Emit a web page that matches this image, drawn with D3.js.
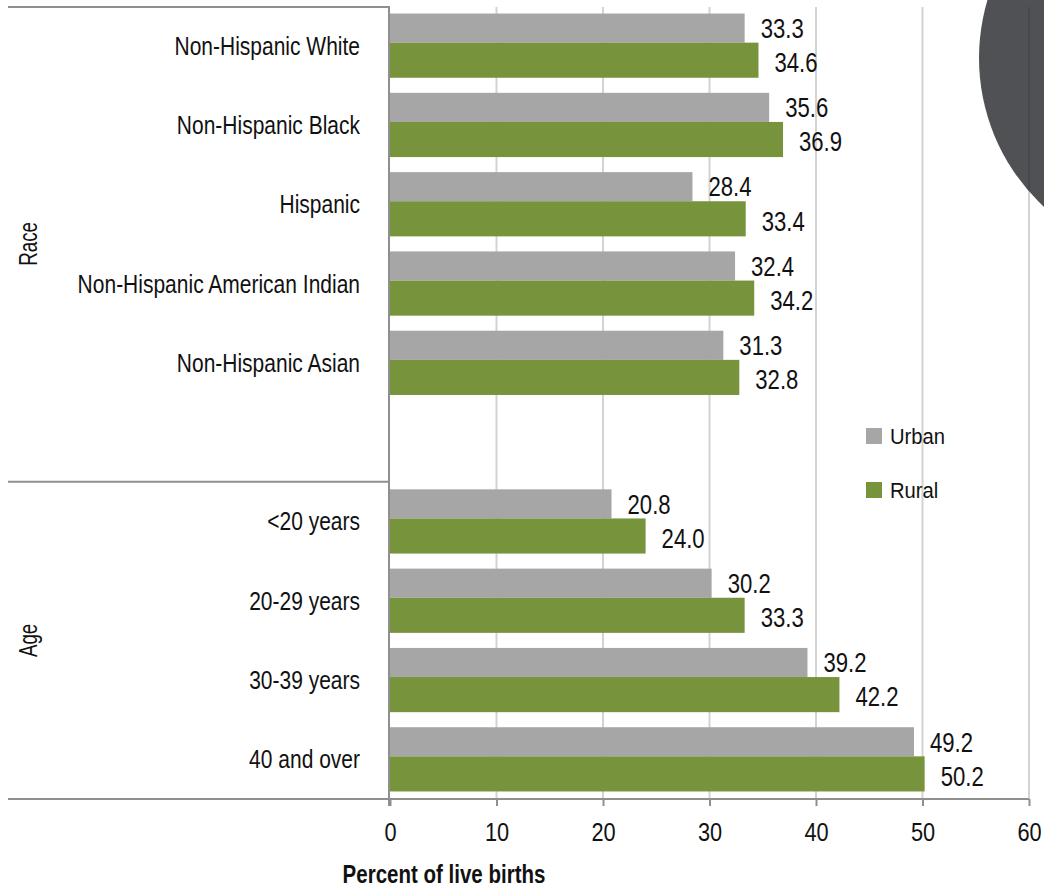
<!DOCTYPE html>
<html>
<head>
<meta charset="utf-8">
<script src="https://cdn.jsdelivr.net/npm/d3@7"></script>
<style>
  html, body { margin: 0; padding: 0; background: #fff; }
  svg { display: block; }
  text { font-family: "Liberation Sans", Arial, sans-serif; fill: #111; }
</style>
</head>
<body>
<svg id="chart" width="1044" height="888"></svg>
<script>
// ---- data ----
const raceCategories = ["Non-Hispanic White", "Non-Hispanic Black", "Hispanic", "Non-Hispanic American Indian", "Non-Hispanic Asian"];
const ageCategories = ["<20 years", "20-29 years", "30-39 years", "40 and over"];
const urbanRace = [33.3, 35.6, 28.4, 32.4, 31.3];
const ruralRace = [34.6, 36.9, 33.4, 34.2, 32.8];
const urbanAge = [20.8, 30.2, 39.2, 49.2];
const ruralAge = [24.0, 33.3, 42.2, 50.2];
const seriesNames = ["Urban", "Rural"];
const seriesColors = ["#a6a6a6", "#77933c"];
const groupLabels = ["Race", "Age"];
const xTicks = [0, 10, 20, 30, 40, 50, 60];
const xTitle = "Percent of live births";

// ---- build rows ----
const spacer = "__spacer__";
const rows = [];
raceCategories.forEach((c, i) => rows.push({ cat: c, Urban: urbanRace[i], Rural: ruralRace[i] }));
const domain = raceCategories.concat([spacer], ageCategories);
ageCategories.forEach((c, i) => rows.push({ cat: c, Urban: urbanAge[i], Rural: ruralAge[i] }));

const svg = d3.select("#chart");
const plotLeft = 390, plotRight = 1029, plotTop = 6, plotBottom = 799;
const axisColor = "#8f8f8f", gridColor = "#d3d3d3";
const narrow = 0.82; // horizontal condensing of the font

const x = d3.scaleLinear().domain([0, 60]).range([plotLeft, plotRight]);
const y = d3.scaleBand().domain(domain).range([plotTop, plotBottom]).paddingInner(0.19).paddingOuter(0.095);
const y1 = d3.scaleBand().domain(seriesNames).range([0, y.bandwidth()]);
const color = d3.scaleOrdinal().domain(seriesNames).range(seriesColors);

// gridlines
svg.append("g").selectAll("line").data(xTicks.filter(t => t > 0)).join("line")
  .attr("x1", d => x(d)).attr("x2", d => x(d))
  .attr("y1", plotTop + 1).attr("y2", plotBottom)
  .attr("stroke", gridColor).attr("stroke-width", 2);

// bars
const g = svg.append("g").selectAll("g").data(rows).join("g")
  .attr("transform", d => `translate(0,${y(d.cat)})`);
const urbanShrink = 3; // rural bar slightly overlaps the urban bar
g.append("rect")
  .attr("x", x(0)).attr("y", y1("Urban"))
  .attr("width", d => x(d.Urban) - x(0))
  .attr("height", y1.bandwidth() - urbanShrink)
  .attr("fill", color("Urban"));
g.append("rect")
  .attr("x", x(0)).attr("y", y1("Rural") - urbanShrink)
  .attr("width", d => x(d.Rural) - x(0))
  .attr("height", y1.bandwidth() + urbanShrink)
  .attr("fill", color("Rural"));

// value labels
const fmt = d3.format(".1f");
g.append("text")
  .attr("transform", d => `translate(${x(d.Urban) + 16},${y1("Urban") + (y1.bandwidth() - urbanShrink) / 2}) scale(${narrow},1)`)
  .attr("dy", "0.36em")
  .style("font-size", "27px")
  .text(d => fmt(d.Urban));
g.append("text")
  .attr("transform", d => `translate(${x(d.Rural) + 16},${y1("Rural") + y1.bandwidth() / 2}) scale(${narrow},1)`)
  .attr("dy", "0.38em")
  .style("font-size", "27px")
  .text(d => fmt(d.Rural));

// category labels
svg.append("g").selectAll("text").data(rows).join("text")
  .attr("transform", d => `translate(360,${y(d.cat) + y.bandwidth() / 2}) scale(0.84,1)`)
  .attr("dy", "0.36em")
  .attr("text-anchor", "end")
  .style("font-size", "25px")
  .text(d => d.cat);

// x axis
const xAxis = d3.axisBottom(x).tickValues(xTicks).tickSize(7).tickPadding(17).tickFormat(d3.format("d"));
const ax = svg.append("g").attr("transform", `translate(0,${plotBottom})`).call(xAxis);
ax.select(".domain").remove();
ax.selectAll(".tick line").attr("stroke", axisColor).attr("stroke-width", 2);
ax.selectAll(".tick text").style("font-size", "25px").attr("fill", "#111")
  .attr("transform", "scale(0.87,1)")
  .style("font-family", '"Liberation Sans", Arial, sans-serif');

// axis lines and group separators
const groupBoundaryY = y(ageCategories[0]) - y.step() * y.paddingInner() / 2;
svg.append("line").attr("x1", 8).attr("x2", plotRight).attr("y1", plotBottom).attr("y2", plotBottom)
  .attr("stroke", axisColor).attr("stroke-width", 2);
svg.append("line").attr("x1", plotLeft - 1).attr("x2", plotLeft - 1).attr("y1", plotTop).attr("y2", plotBottom + 7)
  .attr("stroke", axisColor).attr("stroke-width", 2);
svg.append("line").attr("x1", 8).attr("x2", plotLeft).attr("y1", plotTop + 1).attr("y2", plotTop + 1)
  .attr("stroke", axisColor).attr("stroke-width", 2);
svg.append("line").attr("x1", 8).attr("x2", plotLeft).attr("y1", groupBoundaryY).attr("y2", groupBoundaryY)
  .attr("stroke", axisColor).attr("stroke-width", 2);

// group labels (rotated)
const groupCenters = [(plotTop + groupBoundaryY) / 2, (groupBoundaryY + plotBottom) / 2];
svg.append("g").selectAll("text").data(groupLabels).join("text")
  .attr("transform", (d, i) => `translate(28,${groupCenters[i]}) rotate(-90) scale(0.75,1)`)
  .attr("text-anchor", "middle")
  .attr("dy", "0.36em")
  .style("font-size", "25px")
  .text(d => d);

// x title
svg.append("text")
  .attr("transform", `translate(444,883) scale(${narrow},1)`)
  .attr("text-anchor", "middle")
  .style("font-size", "25px").style("font-weight", "bold")
  .text(xTitle);

// legend
const legend = svg.append("g").selectAll("g").data(seriesNames).join("g")
  .attr("transform", (d, i) => `translate(866,${428 + i * 54})`);
legend.append("rect").attr("width", 16).attr("height", 16).attr("fill", d => color(d));
legend.append("text").attr("transform", "translate(24,15.5) scale(0.92,1)")
  .style("font-size", "22px").text(d => d);

// decorative dark circle, top right
svg.append("circle").attr("cx", 1182).attr("cy", 58).attr("r", 203)
  .attr("fill", "rgb(33,34,38)").attr("fill-opacity", 0.79);
</script>
</body>
</html>
